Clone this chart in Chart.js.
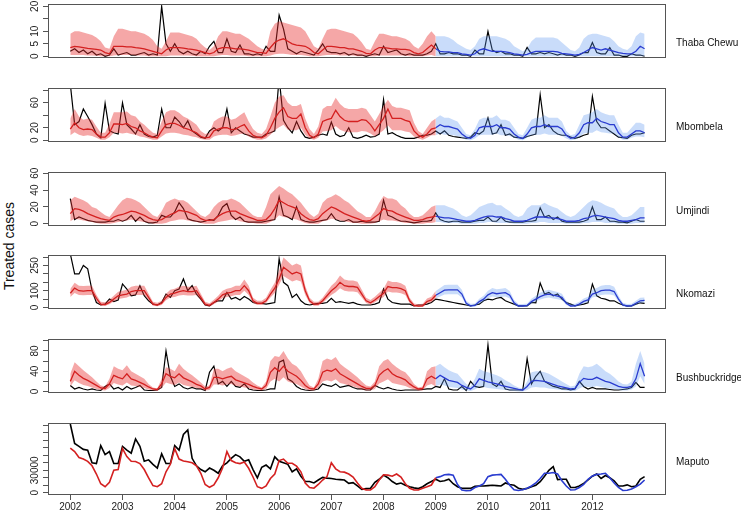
<!DOCTYPE html>
<html>
<head>
<meta charset="utf-8">
<script src="https://cdn.jsdelivr.net/npm/chart.js@4.4.1/dist/chart.umd.min.js"></script>
<style>
  html, body { margin: 0; padding: 0; background: #fff; }
  #wrap { position: relative; width: 741px; height: 513px; overflow: hidden;
          font-family: "Liberation Sans", Arial, sans-serif; color: #111; }
  #wrap canvas { position: absolute; left: 0; }
  .name { position: absolute; left: 676px; font-size: 10px; line-height: 12px;
          transform: translateY(-50%); white-space: nowrap; }
  #ylab { position: absolute; left: 9px; top: 246px; font-size: 14px; white-space: nowrap;
          transform: translate(-50%, -50%) rotate(-90deg); }
</style>
</head>
<body>
<div id="wrap">
  <div id="ylab">Treated cases</div>
</div>
<script>
// tick labels along the bottom
const yearTicks = [2002, 2003, 2004, 2005, 2006, 2007, 2008, 2009, 2010, 2011, 2012];
const panelNames = ['Thaba Chewu', 'Mbombela', 'Umjindi', 'Nkomazi', 'Bushbuckridge', 'Maputo'];

// monthly values, Jan 2002 .. Jan 2013 (133 each)
const thabaObs = [
  2,3,1.5,2.5,1,2,0.5,1,0,0.5,3,0.5,
  1,1.5,0.5,0.5,1,1.5,0.5,1,0.5,20,5,2,
  5,2,1,2,1,0.5,2,1,4,6,1.5,1.5,
  7,2,1.5,4.5,1,1,0.5,1,0.5,4,2,2,
  16.5,11,3,2,1,2,1.5,1,0.5,2.5,5,2,
  1.5,1.5,1,1.5,0.5,1,0.5,0.5,0,0.5,1,0.5,
  4,1.5,2,2.5,1,0.5,1,0.5,0.5,0.5,1,2,
  5,1,1,1.5,1,1,0.5,0.5,0,2.5,1,1,
  10,2.5,1.5,2,1,1,0.5,0.5,0,3.5,1,1,
  1.5,1,1.5,1,0.5,1,0.5,0.5,0,0.5,1.5,1.5,
  5.5,1.5,1,1,3.5,0.5,0.5,0,0,1,0.5,0.5,
  0];
const thabaFit = [
  3.5,4,3.8,3.5,3.2,3,2.8,2.5,1.5,1,4,4,
  4,3.8,3.8,3.5,3.3,3,2.5,2,1.5,1,2.5,3.5,
  3.5,3.5,3.3,3,2.8,2.5,2,1.5,1,1.5,3,3.5,
  3.5,3.3,3,3,2.8,2.5,2,1.5,1.5,1.2,3.5,5.5,
  6.5,7,6,5,4.5,4.3,4,3,1.5,1,2.5,4,
  4,3.8,3.5,3.5,3,3,2.5,2,1.2,1,2.5,3.5,
  3.5,3.3,3,3,2.8,2.8,2.5,1.5,1,1.5,3,4.5,
  3,2,1.8,1.8,1.5,1.5,1,0.8,0.5,1,2.5,3,
  2.5,2,2,2,1.8,1.5,1,0.8,0.5,0.8,1.5,2,
  2,2,2,2,1.8,1.2,1,0.8,0.5,0.8,1.5,2.5,
  3.5,3,2.5,3,2.5,2,1.5,1.2,1,1,2,4,
  3];
const thabaHigh = [
  9,10,10,9.5,9,8.5,7.5,6,3.5,3,8,11,
  11,10.5,10,10,9.5,9,8,6.5,4,3,6,9.5,
  9.5,9.5,9,8.5,8,7,5,3.5,2.5,4,8,10,
  10,9.5,9,9,8,7,5.5,4,3,2.5,10,13,
  14,13.5,13,12.5,12,11.5,10,7,4,3,7,10.5,
  11,11,10.5,10,9.5,9,7.5,5.5,3,2.5,6,9,
  9,8.5,8,8,7.5,7,6,4,3,5,8,10,
  8,8,8,7.5,6.5,5,4,3,2.5,4,7,8,
  8,8,8,7.5,7,6,4,3,2,3,6,7.5,
  7.5,7.5,7.5,7.5,7,5.5,4,2.5,2,3.5,7,8.5,
  9,9,8.5,8,7.5,6,4,3,2.5,4,8,9.5,
  9];
const thabaLow = [
  0.5,0.5,0.5,0.5,0.3,0.3,0.2,0,0,0,0.3,0.5,
  0.5,0.5,0.5,0.3,0.3,0.3,0,0,0,0,0,0.3,
  0.3,0.3,0.3,0.3,0.2,0,0,0,0,0,0.3,0.5,
  0.5,0.3,0.3,0.3,0.3,0,0,0,0,0,0.3,0.8,
  1,1,0.8,0.5,0.5,0.5,0.3,0,0,0,0.3,0.5,
  0.5,0.5,0.3,0.3,0.3,0.3,0,0,0,0,0,0.3,
  0.3,0.3,0.3,0.3,0.3,0.2,0,0,0,0,0.3,0.5,
  0,0,0,0,0,0,0,0,0,0,0,0,
  0,0,0,0,0,0,0,0,0,0,0,0,
  0,0,0,0,0,0,0,0,0,0,0,0,
  0,0,0,0,0,0,0,0,0,0,0,0,
  0];

const mbomObs = [
  90,25,30,50,38,25,10,4,59,15,12,10,
  60,25,18,10,25,10,6,5,8,50,20,20,
  37,30,20,31,15,10,5,3,15,20,15,20,
  50,12,20,15,10,8,5,5,5,10,12,15,
  100,32,20,12,30,15,5,3,5,8,10,8,
  29,10,6,8,20,5,3,5,8,5,6,10,
  65,10,12,8,5,3,3,3,5,8,8,10,
  15,10,15,8,6,5,4,3,5,12,10,15,
  36,10,12,25,8,10,5,4,3,6,8,10,
  73,20,25,15,10,8,8,5,3,5,8,10,
  70,30,20,20,15,10,5,4,3,8,10,10,
  12];
const mbomFit = [
  18,28,20,17,18,17,10,5,5,12,26,26,
  25,27,22,20,15,12,8,5,4,15,25,27,
  27,24,20,18,15,12,6,4,5,15,18,20,
  20,17,18,22,25,15,8,5,4,8,20,35,
  45,52,38,35,35,42,20,8,4,10,30,33,
  35,48,38,32,30,30,30,33,32,25,15,25,
  35,50,35,35,35,32,30,15,8,5,10,18,
  20,25,22,22,20,18,10,5,3,8,20,22,
  22,22,25,20,20,18,10,5,3,10,20,22,
  22,25,22,22,22,18,8,3,5,12,25,28,
  28,35,30,28,25,25,12,5,5,10,15,15,
  12];
const mbomHigh = [
  35,50,38,33,35,33,22,12,12,26,45,45,
  45,46,40,38,30,25,18,12,10,30,45,48,
  48,44,38,35,30,25,15,10,12,30,35,38,
  38,33,35,40,45,30,18,12,10,18,38,60,
  70,72,60,55,55,58,35,18,10,22,50,55,
  55,68,58,52,50,50,50,52,50,40,30,42,
  55,65,55,52,52,50,48,28,15,10,20,30,
  35,40,36,36,33,30,20,10,8,18,33,36,
  36,36,40,33,33,30,20,10,8,20,33,36,
  36,40,36,36,36,30,15,8,10,25,40,42,
  45,50,45,42,40,40,25,12,12,20,28,28,
  25];
const mbomLow = [
  8,13,9,7,8,7,4,1,1,5,12,12,
  11,12,10,9,6,5,3,1,1,6,11,12,
  12,11,9,8,6,5,2,1,1,6,8,9,
  9,7,8,10,11,6,3,1,1,3,9,16,
  21,25,17,16,16,20,9,3,1,4,14,15,
  16,23,17,14,13,13,13,15,14,11,6,11,
  16,24,16,16,16,14,13,6,3,1,4,8,
  8,11,9,9,8,7,4,1,0,3,8,9,
  9,9,11,8,8,7,4,1,0,4,8,9,
  9,11,9,9,9,7,3,0,1,5,11,12,
  12,16,13,12,11,11,5,1,1,4,6,6,
  5];

const umjObs = [
  30,5,8,6,4,3,2,2,2,3,3,5,
  3,5,10,3,8,3,1,1,2,10,8,8,
  14,25,18,6,4,3,2,3,5,4,10,20,
  24,10,5,8,3,2,2,2,2,3,4,5,
  32,10,8,5,20,5,3,2,2,3,4,5,
  12,5,3,3,5,2,2,3,2,2,2,3,
  28,10,8,5,3,3,2,1,2,3,3,4,
  13,5,3,2,3,3,2,2,2,3,4,4,
  8,3,3,8,3,2,2,2,2,3,3,4,
  19,8,10,5,8,3,2,2,2,2,3,5,
  20,5,5,8,3,3,2,2,1,3,5,3,
  3];
const umjFit = [
  12,18,17,15,12,10,8,6,5,4,8,10,
  11,13,15,14,12,10,7,5,4,5,8,11,
  13,16,15,14,12,10,6,4,4,5,9,12,
  14,15,15,12,10,8,6,4,4,5,10,18,
  28,25,22,20,18,12,8,5,4,6,12,16,
  20,18,15,12,10,8,6,4,3,4,8,12,
  18,16,15,12,10,8,6,4,4,5,7,8,
  9,8,7,7,6,5,4,3,3,4,6,8,
  9,9,8,8,6,5,3,3,3,4,6,8,
  8,8,7,7,6,5,3,3,3,4,6,7,
  9,10,9,8,7,6,4,3,3,4,5,7,
  7];
const umjHigh = [
  28,32,30,28,25,20,18,14,10,8,15,22,
  28,31,30,28,25,20,15,10,8,15,25,28,
  30,28,28,25,20,15,10,8,12,20,25,28,
  28,30,28,25,20,15,10,8,8,20,35,40,
  45,42,38,35,30,25,18,12,8,12,25,30,
  32,35,32,28,25,20,15,12,8,8,15,25,
  33,30,30,28,22,18,12,8,8,10,15,20,
  22,22,22,20,18,15,10,8,10,15,20,22,
  24,25,22,22,18,15,10,8,10,18,22,22,
  22,25,22,20,18,14,10,8,10,15,20,25,
  28,27,25,22,20,18,12,8,8,10,15,20,
  20];
const umjLow = [
  3,6,5,4,3,2,1,0,0,0,1,2,
  3,4,5,4,3,2,1,0,0,0,1,3,
  4,5,5,4,3,2,1,0,0,0,2,3,
  4,5,5,3,2,1,1,0,0,0,2,5,
  10,8,7,6,5,3,1,0,0,0,3,4,
  6,5,4,3,2,1,1,0,0,0,1,3,
  5,4,4,3,2,1,1,0,0,0,1,1,
  2,2,1,1,1,1,0,0,0,0,1,1,
  2,2,1,1,1,1,0,0,0,0,1,1,
  2,2,1,1,1,1,0,0,0,0,1,1,
  2,2,2,1,1,1,0,0,0,0,1,1,
  1];

const nkoObs = [
  320,200,200,250,230,100,30,15,20,50,35,45,
  140,110,70,75,130,70,40,20,15,30,80,60,
  100,110,170,100,130,80,50,15,10,30,40,40,
  90,50,60,45,65,50,30,25,25,20,25,30,
  290,150,130,60,80,40,20,15,20,25,25,30,
  55,30,35,30,25,30,20,15,15,15,20,30,
  110,50,30,25,20,20,20,10,15,15,20,30,
  50,45,40,35,30,25,20,15,10,15,20,40,
  50,45,55,60,40,30,20,10,10,10,30,28,
  145,80,90,70,80,50,30,20,10,15,20,28,
  140,70,55,50,40,40,25,15,8,10,20,28,
  25];
const nkoFit = [
  85,115,100,98,100,100,55,20,18,30,50,70,
  75,80,95,100,100,100,60,20,15,25,60,80,
  85,95,100,95,95,100,60,20,13,30,50,75,
  85,90,100,100,130,100,40,25,25,40,80,115,
  170,240,220,200,210,200,100,40,20,20,40,70,
  100,120,150,130,125,125,120,80,40,28,45,65,
  85,125,118,118,112,100,40,12,8,10,36,45,
  73,88,103,105,105,105,80,25,10,12,35,50,
  75,88,82,85,88,73,28,9,9,12,35,50,
  65,75,80,73,68,60,25,9,10,20,36,45,
  80,88,100,103,103,95,50,15,9,10,25,40,
  43];
const nkoHigh = [
  110,148,130,128,130,130,76,34,32,46,70,94,
  100,106,124,130,130,130,82,34,28,40,82,106,
  112,124,130,124,124,130,82,34,26,46,70,100,
  112,118,130,130,166,130,58,40,40,58,106,148,
  220,298,274,250,262,250,130,58,34,34,58,94,
  130,154,190,166,160,160,154,106,58,44,64,88,
  112,160,152,152,144,130,58,24,20,22,53,64,
  98,116,134,136,136,136,106,40,22,24,52,70,
  100,116,108,112,116,98,44,21,21,24,52,70,
  88,100,106,98,92,82,40,21,22,34,53,64,
  106,116,130,134,134,124,70,28,21,22,40,58,
  60];
const nkoLow = [
  63,87,75,73,75,75,39,11,9,19,35,51,
  55,59,71,75,75,75,43,11,7,15,43,59,
  63,71,75,71,71,75,43,11,5,19,35,55,
  63,67,75,75,99,75,27,15,15,27,59,87,
  135,187,171,155,163,155,75,27,11,11,27,51,
  75,91,115,99,95,95,91,59,27,17,31,47,
  63,95,89,89,85,75,27,5,3,3,24,31,
  53,65,77,79,79,79,59,15,3,5,23,35,
  55,65,61,63,65,53,17,3,3,5,23,35,
  47,55,59,53,49,43,15,3,3,11,24,31,
  59,65,75,77,77,71,35,7,3,3,15,27,
  30];

const bushObs = [
  12,5,8,5,3,5,3,2,10,15,5,8,
  3,10,5,8,12,3,2,2,3,8,80,30,
  10,15,8,5,8,5,5,2,38,50,15,20,
  10,20,10,8,15,5,3,2,2,3,5,5,
  58,62,25,20,10,5,3,2,3,5,15,12,
  10,15,8,10,12,8,5,5,3,3,12,8,
  5,8,5,3,2,3,3,3,3,4,5,5,
  10,8,25,5,3,3,10,2,20,10,8,10,
  92,15,10,20,5,3,3,3,3,65,15,30,
  40,20,15,10,8,5,5,3,5,20,10,5,
  8,5,5,5,4,3,3,4,5,8,18,8,
  8];
const bushFit = [
  20,40,32,26,22,17,12,7,6,15,32,28,
  25,35,25,22,18,14,9,5,4,15,35,30,
  27,35,27,23,19,14,11,5,8,28,28,25,
  28,30,23,20,17,14,10,7,5,12,38,47,
  40,50,40,35,30,22,12,6,5,15,38,42,
  40,45,35,30,25,20,15,10,6,6,12,32,
  40,45,35,30,27,23,15,9,5,6,25,30,
  25,32,27,22,20,18,12,8,5,12,25,22,
  19,17,15,12,10,8,6,4,3,10,20,22,
  21,20,17,14,11,9,7,5,6,18,26,24,
  24,28,24,20,18,14,10,8,8,10,25,55,
  30];
const bushHigh = [
  35,58,50,42,35,28,20,12,10,25,50,45,
  42,52,40,35,30,25,15,8,6,25,48,45,
  40,55,45,38,32,25,18,10,12,45,45,40,
  45,48,40,35,30,25,18,12,8,20,60,70,
  68,80,65,55,50,40,25,12,8,25,60,65,
  62,68,55,48,42,35,28,20,12,10,20,50,
  60,64,55,48,42,38,28,15,8,10,40,48,
  50,55,48,42,38,35,25,15,10,25,45,40,
  38,35,32,28,22,18,12,8,6,20,38,40,
  40,38,35,30,25,20,15,10,12,35,50,48,
  50,55,48,40,35,28,20,15,14,20,55,80,
  55];
const bushLow = [
  10,22,17,13,11,8,5,3,2,7,17,14,
  12,18,12,11,9,7,4,2,1,7,18,15,
  13,18,13,11,9,7,5,2,3,14,14,12,
  14,15,11,10,8,7,4,3,2,5,20,25,
  20,28,20,17,15,10,5,2,2,7,20,22,
  20,24,17,15,12,10,7,4,2,2,5,16,
  20,24,17,15,13,11,7,4,2,2,12,15,
  10,14,12,9,8,7,4,2,1,4,10,9,
  7,6,5,4,3,2,1,0,0,3,8,9,
  8,8,6,5,4,3,2,1,1,6,10,9,
  9,11,9,7,6,5,3,2,2,4,10,30,
  15];

const mapObs = [
  92000,66000,62000,58000,57000,40000,39000,63000,51000,55000,39000,39000,
  62000,57000,53000,72000,62000,42000,44000,38000,33000,52000,39000,39000,
  63000,57000,78000,84000,46000,36000,31000,28000,33000,30000,26000,36000,
  40000,46000,51000,48000,42000,44000,31000,20000,34000,37000,32000,48000,
  42000,40000,38000,28000,32000,22000,15000,15000,13000,17000,20500,19500,
  19000,18000,17500,17000,12500,13500,9000,4500,5500,6000,14000,18000,
  23500,20000,15000,11500,13000,10000,8000,6500,5500,8000,12000,15000,
  18000,15000,16000,18000,12000,8000,6000,5800,5800,8500,9000,9000,
  9500,10000,9500,9000,13000,11000,10000,6000,4500,5800,8000,10000,
  14800,22000,30000,35000,17500,18000,18000,7000,7000,9000,12500,17000,
  22000,25000,19000,23000,20000,16000,9000,9000,10500,8000,9000,18000,
  21500];
const mapFit = [
  59600,55000,47000,45000,42000,36000,25000,12000,8000,14000,30000,31000,
  59000,48400,42000,41700,39000,31000,20000,9500,8000,12000,28000,38000,
  59000,45000,42500,41500,40000,36000,26000,11000,7200,10300,20000,33000,
  55000,43000,40000,39000,41000,32700,21000,8000,5800,9000,19000,25000,
  43000,45000,39400,39400,35500,28000,13000,7000,6000,11000,17000,21500,
  40000,32000,28000,27500,25000,21000,13000,6000,3600,3600,8000,17000,
  24000,23500,22000,25000,21000,12000,6000,3600,3600,6000,8000,10300,
  20000,21500,24000,24500,23500,11000,3500,2700,3000,7000,9000,12000,
  21500,23500,24000,24500,18000,10000,4000,3000,4000,6000,9000,13000,
  19000,26000,26000,27000,25000,16000,9000,3600,4000,7000,11000,18000,
  22500,24500,25000,26000,20000,13000,7000,3000,3200,5000,8000,11500,
  17000];

// y axis per panel: tick marks and which of them get a label
const thabaTicks = [0, 5, 10, 15, 20],           thabaLabels = [0, 5, 10, 20];
const mbomTicks = [0, 20, 40, 60, 80],           mbomLabels = [0, 20, 60];
const umjTicks = [0, 20, 40, 60],                umjLabels = [0, 20, 40, 60];
const nkoTicks = [0, 50, 100, 150, 200, 250, 300], nkoLabels = [0, 100, 250];
const bushTicks = [0, 20, 40, 60, 80, 100],      bushLabels = [0, 40, 80];
const mapTicks = [0, 10000, 20000, 30000, 40000, 50000, 60000, 70000, 80000, 90000], mapLabels = [0, 30000];

const FONT = '"Liberation Sans", Arial, sans-serif';
const BOX_LEFT = 48, BOX_RIGHT = 666;
const X_MIN = 2001.573, X_MAX = 2013.41;
const SPLIT = 84, LAST = 132;   // Jan 2009 starts the blue (forecast) part
const RED_LINE = '#d42020', BLUE_LINE = '#2a3cd0';
const RED_BAND = 'rgba(230,45,45,0.42)', BLUE_BAND = 'rgba(90,150,240,0.33)';

Chart.defaults.font.family = FONT;

function pts(arr, from, to) {
  const out = [];
  for (let i = from; i <= to; i++) out.push({ x: 2002 + i / 12, y: arr[i] });
  return out;
}

const panels = [
  { top: 4,   bottom: 76,  min: -0.69, max: 20.93, obs: thabaObs, fit: thabaFit, low: thabaLow, high: thabaHigh, ticks: thabaTicks, labels: thabaLabels },
  { top: 88,  bottom: 160, min: -2.76, max: 83.6,  obs: mbomObs,  fit: mbomFit,  low: mbomLow,  high: mbomHigh,  ticks: mbomTicks,  labels: mbomLabels },
  { top: 172, bottom: 244, min: -2.67, max: 61.5,  obs: umjObs,   fit: umjFit,   low: umjLow,   high: umjHigh,   ticks: umjTicks,   labels: umjLabels },
  { top: 255, bottom: 327, min: -8.9,  max: 312.5, obs: nkoObs,   fit: nkoFit,   low: nkoLow,   high: nkoHigh,   ticks: nkoTicks,   labels: nkoLabels },
  { top: 339, bottom: 411, min: -2.96, max: 103.7, obs: bushObs,  fit: bushFit,  low: bushLow,  high: bushHigh,  ticks: bushTicks,  labels: bushLabels },
  { top: 423, bottom: 495, min: -3080, max: 93300, obs: mapObs,   fit: mapFit,   low: null,     high: null,      ticks: mapTicks,   labels: mapLabels }
];

// box around the plot area + rotated y labels (R style)
const framePlugin = {
  id: 'frame',
  afterDraw(chart, args, opts) {
    const { ctx, chartArea: a } = chart;
    const y = chart.scales.y;
    ctx.save();
    ctx.strokeStyle = '#555';
    ctx.lineWidth = 1;
    ctx.strokeRect(Math.round(a.left) + 0.5, Math.round(a.top) + 0.5,
                   Math.round(a.right - a.left) - 1, Math.round(a.bottom - a.top) - 1);
    ctx.fillStyle = '#222';
    ctx.font = '10px ' + FONT;
    ctx.textAlign = 'center';
    ctx.textBaseline = 'middle';
    opts.labels.forEach(v => {
      ctx.save();
      ctx.translate(35, y.getPixelForValue(v));
      ctx.rotate(-Math.PI / 2);
      ctx.fillText(String(v), 0, 0);
      ctx.restore();
    });
    ctx.restore();
  }
};

const wrap = document.getElementById('wrap');

panels.forEach((p, k) => {
  const isLast = k === panels.length - 1;
  const cTop = p.top - 6;
  const cHeight = isLast ? 513 - cTop : (p.bottom - p.top) + 12;

  const cv = document.createElement('canvas');
  cv.width = 741;
  cv.height = cHeight;
  cv.style.top = cTop + 'px';
  cv.style.width = '741px';
  cv.style.height = cHeight + 'px';
  wrap.appendChild(cv);

  const name = document.createElement('div');
  name.className = 'name';
  name.style.top = ((p.top + p.bottom) / 2 + 3) + 'px';
  name.textContent = panelNames[k];
  wrap.appendChild(name);

  const lw = isLast ? 1.6 : 1.3;
  const datasets = [
    { data: pts(p.fit, 0, SPLIT), borderColor: RED_LINE, borderWidth: lw, fill: false },
    { data: pts(p.fit, SPLIT, LAST), borderColor: BLUE_LINE, borderWidth: lw, fill: false }
  ];
  if (p.high) {
    datasets.push(
      { data: pts(p.high, 0, SPLIT), borderWidth: 0, borderColor: 'transparent', backgroundColor: RED_BAND, fill: '+1' },
      { data: pts(p.low, 0, SPLIT), borderWidth: 0, borderColor: 'transparent', fill: false },
      { data: pts(p.high, SPLIT, LAST), borderWidth: 0, borderColor: 'transparent', backgroundColor: BLUE_BAND, fill: '+1' },
      { data: pts(p.low, SPLIT, LAST), borderWidth: 0, borderColor: 'transparent', fill: false }
    );
  }
  datasets.push({ data: pts(p.obs, 0, LAST), borderColor: '#000', borderWidth: isLast ? 1.6 : 1.2, fill: false });

  new Chart(cv, {
    type: 'line',
    data: { datasets },
    options: {
      responsive: false,
      animation: false,
      devicePixelRatio: 1,
      events: [],
      layout: { padding: { left: 0, right: 741 - BOX_RIGHT, top: 6, bottom: isLast ? 0 : 6 } },
      elements: { point: { radius: 0 }, line: { tension: 0 } },
      plugins: {
        legend: { display: false },
        tooltip: { enabled: false },
        frame: { labels: p.labels }
      },
      scales: {
        x: {
          type: 'linear',
          min: X_MIN,
          max: X_MAX,
          display: isLast,
          afterBuildTicks: s => { s.ticks = yearTicks.map(v => ({ value: v })); },
          afterFit: s => { s.height = 18; },
          grid: { drawOnChartArea: false, drawTicks: true, tickLength: 5, color: '#555' },
          border: { display: false },
          ticks: {
            autoSkip: false, maxRotation: 0, padding: 1,
            color: '#222', font: { size: 10 },
            callback: v => String(v)
          }
        },
        y: {
          min: p.min,
          max: p.max,
          afterBuildTicks: s => { s.ticks = p.ticks.map(v => ({ value: v })); },
          afterFit: s => { s.width = BOX_LEFT; },
          grid: { drawOnChartArea: false, drawTicks: true, tickLength: 5, color: '#555' },
          border: { display: false },
          ticks: { display: false }
        }
      }
    },
    plugins: [framePlugin]
  });
});
</script>
</body>
</html>
